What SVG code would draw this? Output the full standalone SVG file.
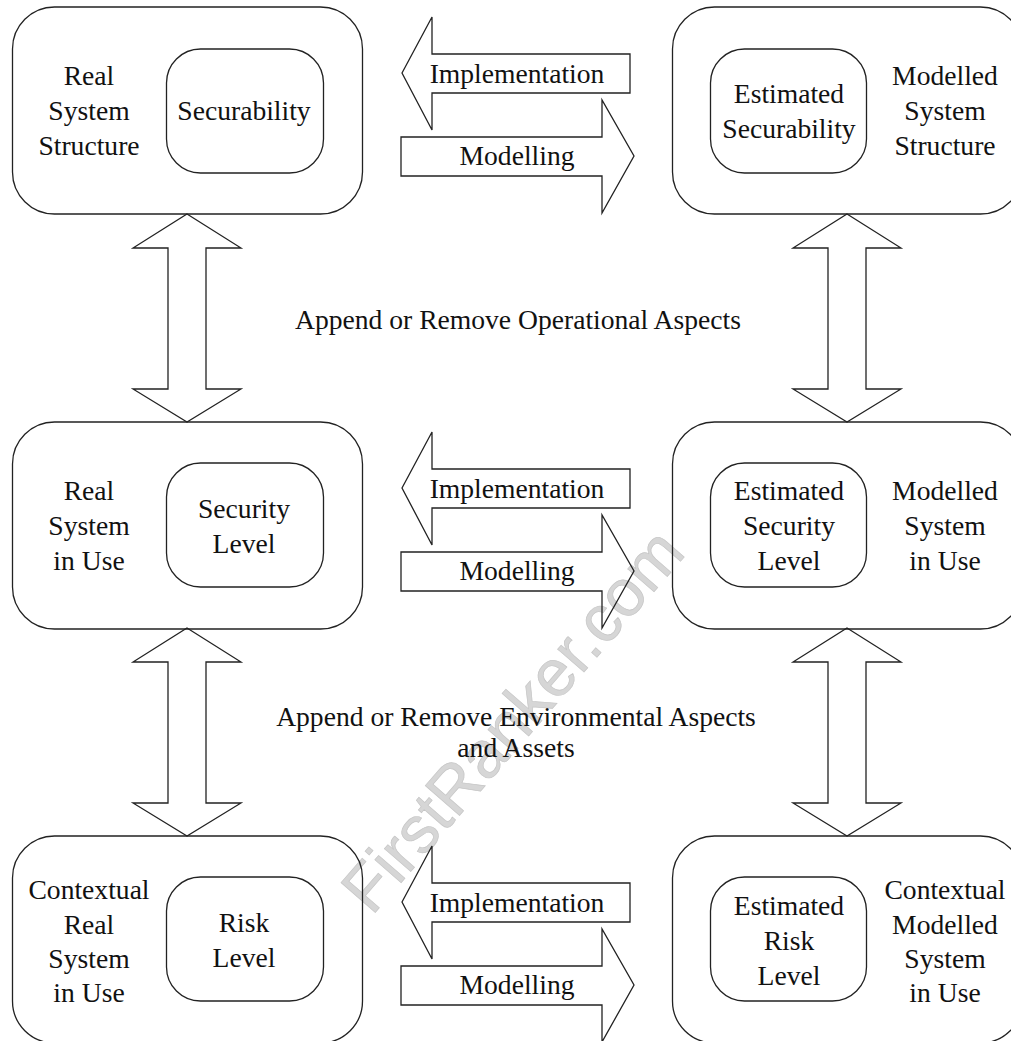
<svg xmlns="http://www.w3.org/2000/svg" width="1011" height="1041" viewBox="0 0 1011 1041">
  <style>
    .outer, .inner { fill: none; stroke: #222; stroke-width: 1.3; }
    .arrow { fill: none; stroke: #222; stroke-width: 1.3; stroke-linejoin: miter; }
    text { font-family: "Liberation Serif", "Times New Roman", serif; font-size: 27.6px; fill: #111; text-anchor: middle; }
    .mark { font-family: "Liberation Sans", Arial, sans-serif; font-size: 66px; fill: #d6d6d6; stroke: #c6c6c6; stroke-width: 0.7; }
  </style>
  <defs>
    <polygon id="arrow-impl" points="402,73 432,17 432,54 630,54 630,93 432,93 432,130"/>
    <polygon id="arrow-model" points="401,137 602,137 602,100 634,156 602,213 602,176 401,176"/>
    <polygon id="arrow-vert" points="0,0 54,34 19,34 19,175 54,175 0,208 -54,175 -19,175 -19,34 -54,34"/>
  </defs>

  <rect width="1011" height="1041" fill="#fff"/>

  <!-- faint watermark behind the drawing -->
  <text class="mark" transform="translate(512,720) rotate(-49)" y="23">FirstRanker.com</text>

  <!-- row 1 -->
  <g id="real-system-structure">
    <rect class="outer" x="12.5" y="7" width="350" height="207" rx="42"/>
    <text x="89" y="85">Real</text>
    <text x="89" y="120">System</text>
    <text x="89" y="155">Structure</text>
  </g>
  <g id="securability">
    <rect class="inner" x="166.5" y="49" width="157" height="124" rx="34"/>
    <text x="244" y="120">Securability</text>
  </g>
  <g id="modelled-system-structure">
    <rect class="outer" x="672.5" y="7" width="350" height="207" rx="42"/>
    <text x="945" y="85">Modelled</text>
    <text x="945" y="120">System</text>
    <text x="945" y="155">Structure</text>
  </g>
  <g id="estimated-securability">
    <rect class="inner" x="710.5" y="49" width="156" height="124" rx="34"/>
    <text x="789" y="103">Estimated</text>
    <text x="789" y="138">Securability</text>
  </g>

  <!-- row 2 -->
  <g id="real-system-in-use">
    <rect class="outer" x="12.5" y="422" width="350" height="207" rx="42"/>
    <text x="89" y="500">Real</text>
    <text x="89" y="535">System</text>
    <text x="89" y="570">in Use</text>
  </g>
  <g id="security-level">
    <rect class="inner" x="166.5" y="463" width="157" height="124" rx="34"/>
    <text x="244" y="518">Security</text>
    <text x="244" y="553">Level</text>
  </g>
  <g id="modelled-system-in-use">
    <rect class="outer" x="672.5" y="422" width="350" height="207" rx="42"/>
    <text x="945" y="500">Modelled</text>
    <text x="945" y="535">System</text>
    <text x="945" y="570">in Use</text>
  </g>
  <g id="estimated-security-level">
    <rect class="inner" x="710.5" y="463" width="156" height="124" rx="34"/>
    <text x="789" y="500">Estimated</text>
    <text x="789" y="535">Security</text>
    <text x="789" y="570">Level</text>
  </g>

  <!-- row 3 -->
  <g id="contextual-real-system-in-use">
    <rect class="outer" x="12.5" y="836" width="350" height="207" rx="42"/>
    <text x="89" y="899">Contextual</text>
    <text x="89" y="934">Real</text>
    <text x="89" y="968">System</text>
    <text x="89" y="1002">in Use</text>
  </g>
  <g id="risk-level">
    <rect class="inner" x="166.5" y="877" width="157" height="124" rx="34"/>
    <text x="244" y="932">Risk</text>
    <text x="244" y="967">Level</text>
  </g>
  <g id="contextual-modelled-system-in-use">
    <rect class="outer" x="672.5" y="836" width="350" height="207" rx="42"/>
    <text x="945" y="899">Contextual</text>
    <text x="945" y="934">Modelled</text>
    <text x="945" y="968">System</text>
    <text x="945" y="1002">in Use</text>
  </g>
  <g id="estimated-risk-level">
    <rect class="inner" x="710.5" y="877" width="156" height="124" rx="34"/>
    <text x="789" y="915">Estimated</text>
    <text x="789" y="950">Risk</text>
    <text x="789" y="985">Level</text>
  </g>

  <!-- connectors -->
  <g id="connectors">
    <use href="#arrow-impl" class="arrow"/>
    <use href="#arrow-model" class="arrow"/>
    <use href="#arrow-impl" class="arrow" transform="translate(0,415)"/>
    <use href="#arrow-model" class="arrow" transform="translate(0,415)"/>
    <use href="#arrow-impl" class="arrow" transform="translate(0,829)"/>
    <use href="#arrow-model" class="arrow" transform="translate(0,829)"/>

    <use href="#arrow-vert" class="arrow" transform="translate(187,214)"/>
    <use href="#arrow-vert" class="arrow" transform="translate(847,214)"/>
    <use href="#arrow-vert" class="arrow" transform="translate(187,628)"/>
    <use href="#arrow-vert" class="arrow" transform="translate(847,628)"/>

    <text x="517" y="83">Implementation</text>
    <text x="517" y="165">Modelling</text>
    <text x="517" y="498">Implementation</text>
    <text x="517" y="580">Modelling</text>
    <text x="517" y="912">Implementation</text>
    <text x="517" y="994">Modelling</text>

    <text x="518" y="329">Append or Remove Operational Aspects</text>
    <text x="516" y="726">Append or Remove Environmental Aspects</text>
    <text x="516" y="757">and Assets</text>
  </g>
</svg>
